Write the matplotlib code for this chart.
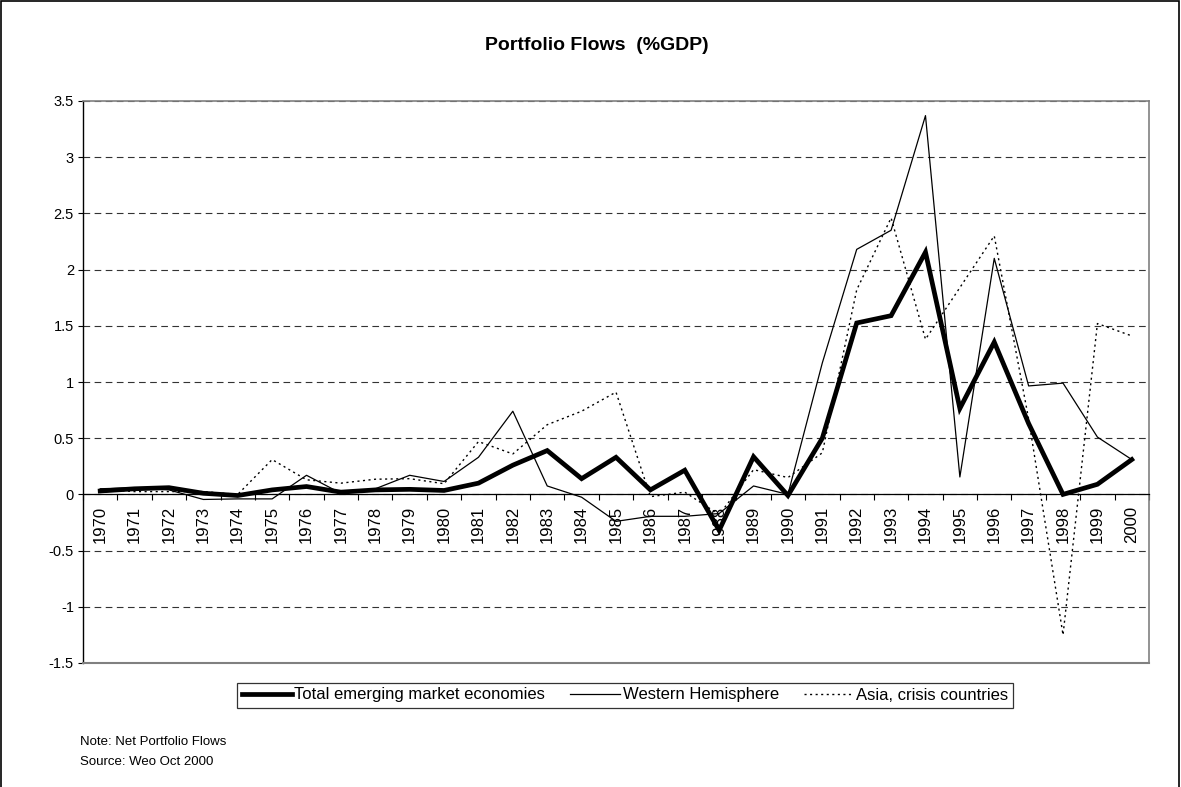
"""
Portfolio Flows (%GDP) - Excel-style line chart, redrawn with matplotlib.
"""
import matplotlib
matplotlib.use("Agg")
import matplotlib.pyplot as plt
from matplotlib.patches import Rectangle

plt.rcParams["font.family"] = ["Liberation Sans", "DejaVu Sans"]

# ---- Data ----
years = [str(y) for y in range(1970, 2001)]

total_em = [0.03, 0.05, 0.06, 0.01, -0.01, 0.04, 0.07, 0.02, 0.04, 0.045,
            0.035, 0.10, 0.26, 0.39, 0.14, 0.33, 0.04, 0.215, -0.32, 0.335,
            -0.01, 0.50, 1.525, 1.59, 2.155, 0.765, 1.355, 0.63, 0.00, 0.09,
            0.31]

western_hem = [0.05, 0.06, 0.04, -0.045, -0.04, -0.04, 0.17, 0.01, 0.05, 0.17,
               0.115, 0.33, 0.74, 0.075, -0.025, -0.24, -0.195, -0.195, -0.17, 0.075,
               0.00, 1.17, 2.18, 2.35, 3.37, 0.155, 2.10, 0.965, 0.99, 0.51,
               0.31]

asia_crisis = [0.045, 0.025, 0.025, 0.025, 0.00, 0.31, 0.13, 0.10, 0.135, 0.14,
               0.095, 0.47, 0.36, 0.62, 0.74, 0.91, -0.02, 0.02, -0.18, 0.22,
               0.15, 0.37, 1.82, 2.46, 1.38, 1.84, 2.30, 0.67, -1.25, 1.52,
               1.41]

y_ticks = [-1.5, -1, -0.5, 0, 0.5, 1, 1.5, 2, 2.5, 3, 3.5]

# ---- Figure ----
W, H = 1181, 787
fig = plt.figure(figsize=(W / 100, H / 100), dpi=100)
fig.patch.set_facecolor("white")

# outer chart border
fig.add_artist(Rectangle((1 / W, -0.01), 1 - 3 / W, 1 - 0.5 / H + 0.01,
                         transform=fig.transFigure, fill=False,
                         edgecolor="black", linewidth=1.2))

left, right, top, bottom = 83 / W, 1149 / W, 1 - 101 / H, 1 - 663 / H
ax = fig.add_axes([left, bottom, right - left, top - bottom])

x = list(range(len(years)))
ax.plot(x, total_em, color="black", linewidth=3.4, solid_joinstyle="miter",
        label="Total emerging market economies", zorder=4)
ax.plot(x, western_hem, color="black", linewidth=0.9,
        label="Western Hemisphere", zorder=3)
ax.plot(x, asia_crisis, color="black", linewidth=1.0, linestyle=(0, (1.5, 2.5)),
        label="Asia, crisis countries", zorder=3)

ax.set_xlim(-0.5, len(years) - 0.5)
ax.set_ylim(-1.5, 3.5)

# gridlines
ax.set_yticks(y_ticks)
ax.set_yticklabels([f"{t:g}" for t in y_ticks], fontsize=10.5)
ax.yaxis.grid(True, color="#333333", linewidth=0.8, linestyle=(0, (6, 4)))
ax.set_axisbelow(True)
ax.tick_params(axis="y", direction="out", length=3.5, width=0.8, pad=3)

# category axis crosses at zero
ax.spines["bottom"].set_position(("data", 0))
ax.spines["bottom"].set_linewidth(0.9)
ax.spines["left"].set_linewidth(1.0)
for side in ("top", "right"):
    ax.spines[side].set_color("#808080")
    ax.spines[side].set_linewidth(1.2)
ax.axhline(-1.5, color="#808080", linewidth=1.5, clip_on=False, zorder=5)

ax.set_xticks(x)
ax.set_xticklabels(years, rotation=90, fontsize=12, va="top")
ax.set_xticks([i - 0.5 for i in range(len(years) + 1)], minor=True)
ax.tick_params(axis="x", which="major", length=0, pad=8)
ax.tick_params(axis="x", which="minor", direction="out", length=4, width=0.8)

fig.text(597 / W, 1 - 45 / H, "Portfolio Flows  (%GDP)", ha="center", va="center",
         fontsize=14, fontweight="bold")

leg = fig.legend(loc="center", bbox_to_anchor=(625 / W, 1 - 695 / H), ncol=3,
                 fontsize=12, frameon=True, fancybox=False, handlelength=3.0,
                 handletextpad=0.15, columnspacing=1.5, borderpad=0.3,
                 borderaxespad=0)
leg.get_frame().set_edgecolor("black")
leg.get_frame().set_linewidth(0.9)

fig.text(80 / W, 1 - 742 / H, "Note: Net Portfolio Flows", ha="left", va="center", fontsize=9.5)
fig.text(80 / W, 1 - 762 / H, "Source: Weo Oct 2000", ha="left", va="center", fontsize=9.5)

fig.savefig("out.png", dpi=100, facecolor="white")
